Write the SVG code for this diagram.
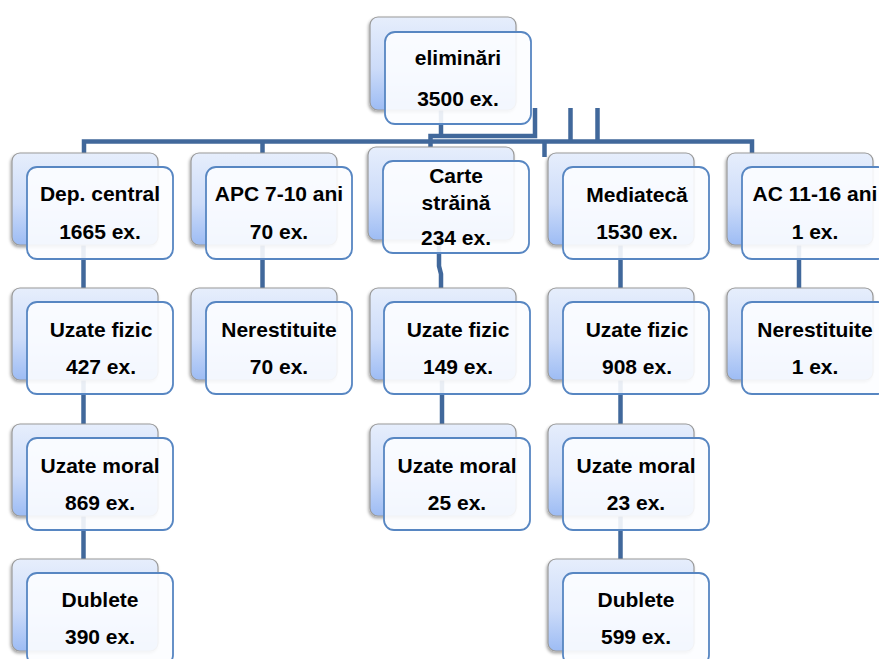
<svg xmlns="http://www.w3.org/2000/svg" width="879" height="659" viewBox="0 0 879 659">
<defs>
<linearGradient id="bg" x1="0" y1="0" x2="0" y2="1">
<stop offset="0" stop-color="#e6eefc"/>
<stop offset="0.55" stop-color="#cddcf9"/>
<stop offset="1" stop-color="#9dbcf4"/>
</linearGradient>
<filter id="sh" x="-10%" y="-10%" width="120%" height="125%">
<feDropShadow dx="-1" dy="2" stdDeviation="1.5" flood-color="#000" flood-opacity="0.35"/>
</filter>
</defs>
<style>
.back{fill:url(#bg);stroke:#9a9a9a;stroke-width:1.2;filter:url(#sh)}
.front{fill:#fcfdff;fill-opacity:0.9;stroke:#5786c2;stroke-width:1.8}
.t{font-family:"Liberation Sans",Arial,sans-serif;font-weight:bold;font-size:21px;fill:#000;text-anchor:middle}
.c{fill:none;stroke:#41689b;stroke-width:4.5}
</style>
<rect width="879" height="659" fill="#fff"/>
<g id="connectors">
<path class="c" d="M84 153 V141.5 H752 V153"/>
<path class="c" d="M262.5 141.5 V153"/>
<path class="c" d="M544.5 141.5 V157"/>
<path class="c" d="M570.5 108 V141.5 M597.5 108 V141.5"/>
<path class="c" d="M535 108 V136 H430.5 V147"/>
<path class="c" d="M441 110 V136"/>
<path class="c" d="M83.5 240 V560"/>
<path class="c" d="M262.5 240 V290"/>
<path class="c" d="M439 240 V266 L441 274 V290"/>
<path class="c" d="M442 370 V424"/>
<path class="c" d="M620.5 240 V560"/>
<path class="c" d="M799 240 V290"/>
</g>
<g id="root">
<rect class="back" x="370" y="17" width="146" height="93" rx="8"/>
<rect class="front" x="385" y="32" width="146" height="92" rx="10"/>
<text class="t" x="458" y="65">eliminări</text>
<text class="t" x="458" y="106">3500 ex.</text>
</g>
<g id="dep-central">
<rect class="back" x="12" y="153" width="146" height="92" rx="8"/>
<rect class="front" x="27" y="167" width="146" height="92" rx="10"/>
<text class="t" x="100" y="201">Dep. central</text>
<text class="t" x="100" y="239">1665 ex.</text>
</g>
<g id="apc">
<rect class="back" x="191" y="153" width="146" height="92" rx="8"/>
<rect class="front" x="206" y="167" width="146" height="92" rx="10"/>
<text class="t" x="279" y="201">APC 7-10 ani</text>
<text class="t" x="279" y="239">70 ex.</text>
</g>
<g id="carte-straina">
<rect class="back" x="368" y="147" width="146" height="93" rx="8"/>
<rect class="front" x="383" y="161" width="146" height="92" rx="10"/>
<text class="t" x="456" y="183">Carte</text>
<text class="t" x="456" y="210">străină</text>
<text class="t" x="456" y="245">234 ex.</text>
</g>
<g id="mediateca">
<rect class="back" x="548" y="153" width="146" height="92" rx="8"/>
<rect class="front" x="563" y="167" width="146" height="92" rx="10"/>
<text class="t" x="637" y="202">Mediatecă</text>
<text class="t" x="637" y="239">1530 ex.</text>
</g>
<g id="ac">
<rect class="back" x="727" y="153" width="146" height="92" rx="8"/>
<rect class="front" x="742" y="167" width="146" height="92" rx="10"/>
<text class="t" x="815" y="201">AC 11-16 ani</text>
<text class="t" x="815" y="239">1 ex.</text>
</g>
<g id="dep-uzate-fizic">
<rect class="back" x="12" y="288" width="146" height="92" rx="8"/>
<rect class="front" x="27" y="302" width="146" height="92" rx="10"/>
<text class="t" x="101" y="337">Uzate fizic</text>
<text class="t" x="101" y="374">427 ex.</text>
</g>
<g id="apc-nerestituite">
<rect class="back" x="191" y="288" width="146" height="92" rx="8"/>
<rect class="front" x="206" y="302" width="146" height="92" rx="10"/>
<text class="t" x="279" y="337">Nerestituite</text>
<text class="t" x="279" y="374">70 ex.</text>
</g>
<g id="carte-uzate-fizic">
<rect class="back" x="370" y="288" width="146" height="92" rx="8"/>
<rect class="front" x="384" y="302" width="146" height="92" rx="10"/>
<text class="t" x="458" y="337">Uzate fizic</text>
<text class="t" x="458" y="374">149 ex.</text>
</g>
<g id="med-uzate-fizic">
<rect class="back" x="548" y="288" width="146" height="92" rx="8"/>
<rect class="front" x="563" y="302" width="146" height="92" rx="10"/>
<text class="t" x="637" y="337">Uzate fizic</text>
<text class="t" x="637" y="374">908 ex.</text>
</g>
<g id="ac-nerestituite">
<rect class="back" x="727" y="288" width="146" height="92" rx="8"/>
<rect class="front" x="742" y="302" width="146" height="92" rx="10"/>
<text class="t" x="815" y="337">Nerestituite</text>
<text class="t" x="815" y="374">1 ex.</text>
</g>
<g id="dep-uzate-moral">
<rect class="back" x="12" y="424" width="146" height="92" rx="8"/>
<rect class="front" x="27" y="438" width="146" height="92" rx="10"/>
<text class="t" x="100" y="473">Uzate moral</text>
<text class="t" x="100" y="510">869 ex.</text>
</g>
<g id="carte-uzate-moral">
<rect class="back" x="370" y="424" width="146" height="92" rx="8"/>
<rect class="front" x="384" y="438" width="146" height="92" rx="10"/>
<text class="t" x="457" y="473">Uzate moral</text>
<text class="t" x="457" y="510">25 ex.</text>
</g>
<g id="med-uzate-moral">
<rect class="back" x="548" y="424" width="146" height="92" rx="8"/>
<rect class="front" x="563" y="438" width="146" height="92" rx="10"/>
<text class="t" x="636" y="473">Uzate moral</text>
<text class="t" x="636" y="510">23 ex.</text>
</g>
<g id="dep-dublete">
<rect class="back" x="12" y="559" width="146" height="92" rx="8"/>
<rect class="front" x="27" y="573" width="146" height="92" rx="10"/>
<text class="t" x="100" y="607">Dublete</text>
<text class="t" x="100" y="644">390 ex.</text>
</g>
<g id="med-dublete">
<rect class="back" x="548" y="559" width="146" height="92" rx="8"/>
<rect class="front" x="563" y="573" width="146" height="92" rx="10"/>
<text class="t" x="636" y="607">Dublete</text>
<text class="t" x="636" y="644">599 ex.</text>
</g>
</svg>
